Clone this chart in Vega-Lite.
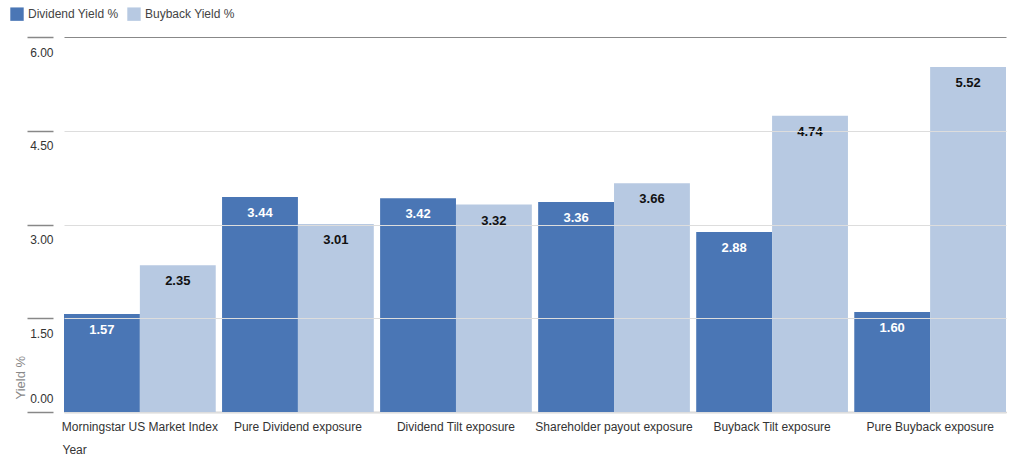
{
  "$schema": "https://vega.github.io/schema/vega-lite/v6.json",
  "width": 942,
  "height": 375,
  "autosize": {"type": "none"},
  "padding": {"left": 64, "top": 37, "right": 7, "bottom": 47},
  "background": "white",
  "config": {
    "font": "Liberation Sans",
    "view": {"stroke": null}
  },
  "data": {
    "values": [
      {"exposure": "Morningstar US Market Index", "measure": "Dividend Yield %", "yield": 1.57},
      {"exposure": "Morningstar US Market Index", "measure": "Buyback Yield %", "yield": 2.35},
      {"exposure": "Pure Dividend exposure", "measure": "Dividend Yield %", "yield": 3.44},
      {"exposure": "Pure Dividend exposure", "measure": "Buyback Yield %", "yield": 3.01},
      {"exposure": "Dividend Tilt exposure", "measure": "Dividend Yield %", "yield": 3.42},
      {"exposure": "Dividend Tilt exposure", "measure": "Buyback Yield %", "yield": 3.32},
      {"exposure": "Shareholder payout exposure", "measure": "Dividend Yield %", "yield": 3.36},
      {"exposure": "Shareholder payout exposure", "measure": "Buyback Yield %", "yield": 3.66},
      {"exposure": "Buyback Tilt exposure", "measure": "Dividend Yield %", "yield": 2.88},
      {"exposure": "Buyback Tilt exposure", "measure": "Buyback Yield %", "yield": 4.74},
      {"exposure": "Pure Buyback exposure", "measure": "Dividend Yield %", "yield": 1.6},
      {"exposure": "Pure Buyback exposure", "measure": "Buyback Yield %", "yield": 5.52}
    ]
  },
  "encoding": {
    "x": {
      "field": "exposure",
      "type": "nominal",
      "sort": null,
      "scale": {"paddingInner": 0.04, "paddingOuter": 0},
      "axis": {
        "title": "Year",
        "titleAnchor": "start",
        "titleAlign": "left",
        "titleBaseline": "middle",
        "titleX": -2,
        "titleY": 37,
        "titleFontSize": 12,
        "titleFontWeight": "normal",
        "titleColor": "#333333",
        "labelAngle": 0,
        "labelFontSize": 12,
        "labelColor": "#333333",
        "labelPadding": 9,
        "labelLimit": 300,
        "ticks": false,
        "domainColor": "#aaaaaa",
        "domainWidth": 1.5
      }
    },
    "xOffset": {
      "field": "measure",
      "type": "nominal",
      "sort": ["Dividend Yield %", "Buyback Yield %"],
      "scale": {"paddingInner": 0, "paddingOuter": 0}
    },
    "y": {
      "field": "yield",
      "type": "quantitative",
      "scale": {"domain": [0, 6], "nice": false},
      "axis": {
        "title": "Yield %",
        "titleAnchor": "start",
        "titleFontSize": 13,
        "titleFontWeight": "normal",
        "titleColor": "#888888",
        "titleX": -33,
        "titleY": 362,
        "titleAngle": -90,
        "titleAlign": "left",
        "titleBaseline": "middle",
        "values": [0, 1.5, 3, 4.5, 6],
        "format": ".2f",
        "offset": 11,
        "tickSize": 26,
        "tickColor": "#888888",
        "tickWidth": 1.5,
        "labelPadding": -26,
        "labelOffset": {"condition": {"test": "datum.value === 0", "value": -14}, "value": 15},
        "labelFontSize": 12,
        "labelColor": "#333333",
        "domain": false,
        "gridColor": {"condition": {"test": "datum.value === 6", "value": "#888888"}, "value": "#dddddd"},
        "gridWidth": 1.2,
        "zindex": 1
      }
    }
  },
  "layer": [
    {
      "mark": {"type": "bar"},
      "encoding": {
        "color": {
          "field": "measure",
          "type": "nominal",
          "sort": ["Dividend Yield %", "Buyback Yield %"],
          "scale": {"range": ["#4a76b5", "#b7c9e2"]},
          "legend": {
            "title": null,
            "orient": "none",
            "legendX": -54,
            "legendY": -30,
            "direction": "horizontal",
            "symbolType": "square",
            "symbolSize": 180,
            "symbolStrokeWidth": 0,
            "labelFontSize": 12,
            "labelColor": "#444444",
            "columnPadding": 8,
            "labelOffset": 4
          }
        }
      }
    },
    {
      "mark": {"type": "text", "baseline": "middle", "dy": 16, "fontSize": 13, "fontWeight": "bold"},
      "encoding": {
        "text": {"field": "yield", "type": "quantitative", "format": ".2f"},
        "color": {
          "condition": {"test": "datum.measure === 'Dividend Yield %'", "value": "white"},
          "value": "#111111"
        }
      }
    }
  ]
}
